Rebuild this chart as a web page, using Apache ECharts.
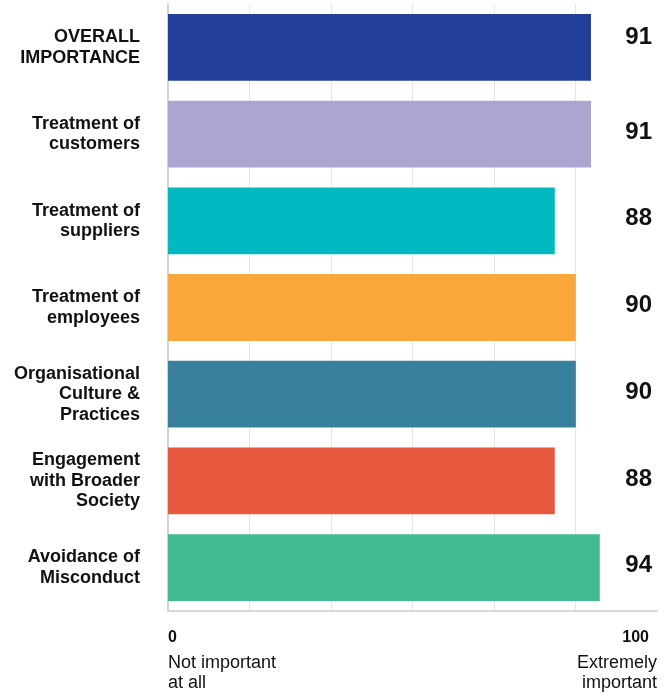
<!DOCTYPE html>
<html>
<head>
<meta charset="utf-8">
<script src="https://cdn.jsdelivr.net/npm/echarts@6/dist/echarts.min.js"></script>
<style>
  html, body { margin: 0; padding: 0; background: #ffffff; }
  #chart { width: 671px; height: 693px; }
</style>
</head>
<body>
<div id="chart"></div>
<script>
// ---- Data ----
const categories = [
  'OVERALL\nIMPORTANCE',
  'Treatment of\ncustomers',
  'Treatment of\nsuppliers',
  'Treatment of\nemployees',
  'Organisational\nCulture &\nPractices',
  'Engagement\nwith Broader\nSociety',
  'Avoidance of\nMisconduct'
];
// bar lengths as read against the 0–100 axis
const barScores = [86.5, 86.5, 79.1, 83.4, 83.4, 79.1, 88.3];
// printed score labels
const scoreLabels = ['91', '91', '88', '90', '90', '88', '94'];
const axisMin = 0;
const axisMax = 100;
const axisEndLabels = { min: ['0', 'Not important', 'at all'], max: ['100', 'Extremely', 'important'] };

// ---- Styles ----
const palette = ['#22409A', '#ADA5D1', '#00B9C1', '#F9A73A', '#37809E', '#E8593F', '#41BB8F'];
const FONT = '"Liberation Sans", Arial, Helvetica, sans-serif';

const chart = echarts.init(document.getElementById('chart'), null, { renderer: 'canvas' });

chart.setOption({
  animation: false,
  backgroundColor: '#ffffff',
  textStyle: { fontFamily: FONT },
  grid: { left: 168, right: 14, top: 4, bottom: 82, containLabel: false },
  xAxis: {
    type: 'value',
    min: axisMin,
    max: axisMax,
    interval: (axisMax - axisMin) / 6,
    axisLine: { show: true, lineStyle: { color: '#d9d9d9', width: 2 } },
    axisTick: { show: false },
    splitLine: { show: true, showMinLine: false, showMaxLine: false, lineStyle: { color: '#e6e6e6', width: 1 } },
    axisLabel: {
      show: true,
      showMinLabel: true,
      showMaxLabel: true,
      alignMinLabel: 'left',
      alignMaxLabel: 'right',
      margin: 12,
      formatter: function (v) {
        if (v < axisMin + 1) return '{v|' + axisEndLabels.min[0] + '}\n{d|' + axisEndLabels.min[1] + '}\n{d|' + axisEndLabels.min[2] + '}';
        if (v > axisMax - 1) return '{vr|' + axisEndLabels.max[0] + '}\n{d|' + axisEndLabels.max[1] + '}\n{d|' + axisEndLabels.max[2] + '}';
        return '';
      },
      rich: {
        v: { fontSize: 16, fontWeight: 'bold', color: '#111', lineHeight: 30, fontFamily: FONT },
        vr: { fontSize: 16, fontWeight: 'bold', color: '#111', lineHeight: 30, fontFamily: FONT, padding: [0, 8, 0, 0] },
        d: { fontSize: 18, color: '#111', lineHeight: 20, fontFamily: FONT }
      }
    }
  },
  yAxis: [
    {
      type: 'category',
      data: categories,
      inverse: true,
      axisLine: { show: true, lineStyle: { color: '#d3d3d3', width: 2 } },
      axisTick: { show: false },
      splitLine: { show: false },
      axisLabel: {
        margin: 28,
        fontSize: 18,
        fontWeight: 'bold',
        color: '#111',
        lineHeight: 20.5,
        align: 'right',
        fontFamily: FONT
      }
    },
    {
      type: 'category',
      data: scoreLabels,
      inverse: true,
      position: 'right',
      axisLine: { show: false },
      axisTick: { show: false },
      splitLine: { show: false },
      axisLabel: {
        inside: true,
        margin: 5,
        align: 'right',
        formatter: function (v, i) { return (i === 0 ? '{first|' : '{s|') + v + '}'; },
        rich: {
          first: { fontSize: 24, fontWeight: 'bold', color: '#111', fontFamily: FONT, padding: [0, 0, 20, 0] },
          s: { fontSize: 24, fontWeight: 'bold', color: '#111', fontFamily: FONT, padding: [0, 0, 4, 0] }
        }
      }
    }
  ],
  series: [
    {
      type: 'bar',
      yAxisIndex: 0,
      data: barScores,
      colorBy: 'data',
      color: palette,
      barCategoryGap: '23%',
      label: { show: false }
    }
  ]
});
</script>
</body>
</html>
